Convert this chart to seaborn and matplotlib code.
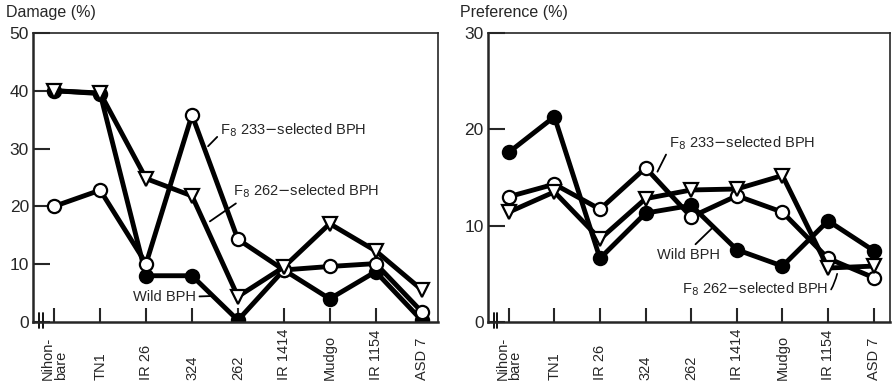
import matplotlib
matplotlib.use("Agg")
import matplotlib.pyplot as plt
import seaborn as sns

varieties = ["Nihon-\nbare", "TN1", "IR 26", "324", "262", "IR 1414", "Mudgo", "IR 1154", "ASD 7"]

# damage (%)
damage_wild = [40, 39.5, 8, 8, 0.3, 9, 4, 8.7, 0.3]
damage_233 = [20, 22.8, 10.1, 35.8, 14.3, 9, 9.6, 10.1, 1.8]
damage_262 = [40, 39.6, 24.8, 21.8, 4.4, 9.5, 17, 12.3, 5.6]

# preference (%)
pref_wild = [17.6, 21.3, 6.6, 11.3, 12.1, 7.5, 5.8, 10.5, 7.4]
pref_233 = [13.0, 14.3, 11.7, 16.0, 10.9, 13.1, 11.4, 6.6, 4.6]
pref_262 = [11.4, 13.5, 8.6, 12.8, 13.7, 13.8, 15.2, 5.6, 5.8]

damage_ticks = [0, 10, 20, 30, 40, 50]
pref_ticks = [0, 10, 20, 30]

sns.set_style("ticks")
plt.rcParams["font.family"] = ["Liberation Sans", "DejaVu Sans"]

fig = plt.figure(figsize=(8.95, 3.87), dpi=100)
ax1 = fig.add_axes([0.037, 0.168, 0.452, 0.747])
ax2 = fig.add_axes([0.545, 0.168, 0.449, 0.747])

styles = [
    ("wild", dict(marker="o", markerfacecolor="black", markeredgecolor="black")),
    ("233", dict(marker="o", markerfacecolor="white", markeredgecolor="black")),
    ("262", dict(marker="v", markerfacecolor="white", markeredgecolor="black")),
]


def draw_panel(ax, series, ticks, ylabel):
    for (name, st), vals in zip(styles, series):
        sns.lineplot(x=varieties, y=vals, ax=ax, color="black", linewidth=3.5,
                     markersize=9.5, markeredgewidth=1.6, sort=False, **st)
    ax.set_ylim(0, ticks[-1])
    ax.set_xlim(-0.46, 8.35)
    ax.set_yticks(ticks)
    ax.set_yticklabels([str(t) for t in ticks], fontsize=12.5)
    ax.set_xticks(range(len(varieties)))
    ax.set_xticklabels(varieties, rotation=90, fontsize=10.5, linespacing=0.9,
                       va="bottom", multialignment="left")
    ax.tick_params(axis="x", direction="in", length=10, width=1.5, pad=42)
    ax.tick_params(axis="y", direction="in", length=12, width=1.5, pad=3)
    ax.set_xlabel("")
    ax.set_ylabel("")
    for side in ["top", "right"]:
        ax.spines[side].set_linewidth(1.2)
    for side in ["left", "bottom"]:
        ax.spines[side].set_linewidth(1.8)
    ax.text(-0.068, 1.045, ylabel, transform=ax.transAxes, fontsize=11.5,
            ha="left", va="bottom")
    # axis break marks
    tr = ax.get_xaxis_transform()
    for xb in [-0.33, -0.25]:
        ax.plot([xb, xb], [-0.02, 0.03], transform=tr, color="black",
                linewidth=1.3, clip_on=False)


draw_panel(ax1, [damage_wild, damage_233, damage_262], damage_ticks, "Damage (%)")
draw_panel(ax2, [pref_wild, pref_233, pref_262], pref_ticks, "Preference (%)")

lab233 = "F$_8$ 233$-$selected BPH"
lab262 = "F$_8$ 262$-$selected BPH"
arrow = dict(arrowstyle="-", color="black", linewidth=1.3, shrinkA=0, shrinkB=0)
fs = 10.5

ax1.annotate(lab233, xy=(3.35, 30.4), xytext=(3.62, 33.2), fontsize=fs,
             va="center", arrowprops=dict(arrow, relpos=(0.0, 0.3)))
ax1.annotate(lab262, xy=(3.39, 17.4), xytext=(3.9, 22.6), fontsize=fs,
             va="center", arrowprops=dict(arrow, relpos=(0.05, 0.0)))
ax1.annotate("Wild BPH", xy=(3.46, 4.5), xytext=(1.72, 4.4), fontsize=fs,
             va="center", arrowprops=dict(arrow, relpos=(1.0, 0.5)))

ax2.annotate(lab233, xy=(3.26, 15.6), xytext=(3.52, 18.6), fontsize=fs,
             va="center", arrowprops=dict(arrow, relpos=(0.0, 0.2)))
ax2.annotate("Wild BPH", xy=(4.45, 9.7), xytext=(3.26, 7.0), fontsize=fs,
             va="center", arrowprops=dict(arrow, relpos=(0.55, 1.0)))
ax2.annotate(lab262, xy=(7.2, 5.0), xytext=(3.79, 3.4), fontsize=fs,
             va="center",
             arrowprops=dict(arrowstyle="-", color="black", linewidth=1.2,
                             shrinkA=0, shrinkB=0,
                             connectionstyle="arc3,rad=0.6",
                             relpos=(0.72, 0.0)))

fig.savefig("out.png", dpi=100)
